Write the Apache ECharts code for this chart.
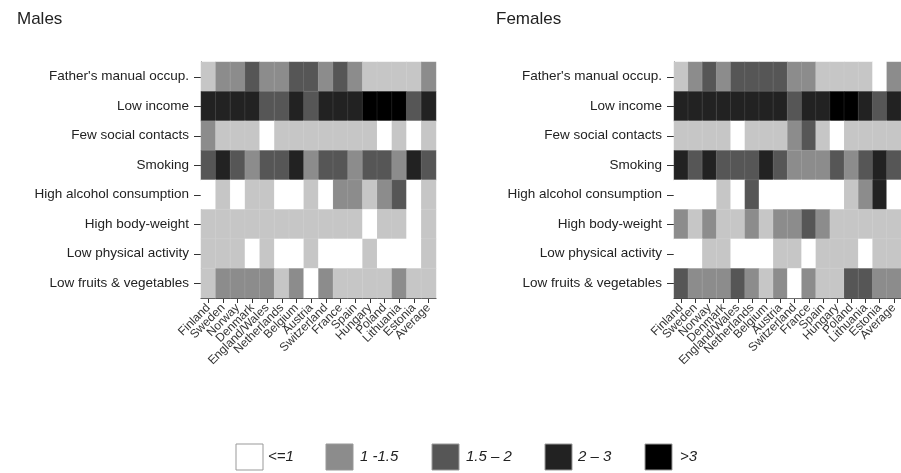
<!DOCTYPE html>
<html><head><meta charset="utf-8">
<script src="https://cdn.jsdelivr.net/npm/echarts/dist/echarts.min.js"></script>
<style>html,body{margin:0;padding:0;background:#fff}#c{width:901px;height:473px}</style>
</head><body><div id="c"></div>
<script>
const countries = ['Finland','Sweden','Norway','Denmark','England/Wales','Netherlands','Belgium','Austria','Switzerland','France','Spain','Hungary','Poland','Lithuania','Estonia','Average'];
const riskFactors = ["Father's manual occup.",'Low income','Few social contacts','Smoking','High alcohol consumption','High body-weight','Low physical activity','Low fruits & vegetables'];
// estimated odds ratios (rows = risk factors, columns = countries)
const malesValues = [
  [1.15,1.4,1.4,1.75,1.4,1.4,1.75,1.75,1.4,1.75,1.4,1.15,1.15,1.15,1.15,1.4],
  [2.5,2.5,2.5,2.5,1.75,1.75,2.5,1.75,2.5,2.5,2.5,3.4,3.4,3.4,1.75,2.5],
  [1.4,1.15,1.15,1.15,0.9,1.15,1.15,1.15,1.15,1.15,1.15,1.15,0.9,1.15,0.9,1.15],
  [1.75,2.5,1.75,1.4,1.75,1.75,2.5,1.4,1.75,1.75,1.4,1.75,1.75,1.4,2.5,1.75],
  [0.9,1.15,0.9,1.15,1.15,0.9,0.9,1.15,0.9,1.4,1.4,1.15,1.4,1.75,0.9,1.15],
  [1.15,1.15,1.15,1.15,1.15,1.15,1.15,1.15,1.15,1.15,1.15,0.9,1.15,1.15,0.9,1.15],
  [1.15,1.15,1.15,0.9,1.15,0.9,0.9,1.15,0.9,0.9,0.9,1.15,0.9,0.9,0.9,1.15],
  [1.15,1.4,1.4,1.4,1.4,1.15,1.4,0.9,1.4,1.15,1.15,1.15,1.15,1.4,1.15,1.15]
];
const femalesValues = [
  [1.15,1.4,1.75,1.4,1.75,1.75,1.75,1.75,1.4,1.4,1.15,1.15,1.15,1.15,0.9,1.4],
  [2.5,2.5,2.5,2.5,2.5,2.5,2.5,2.5,1.75,2.5,2.5,3.4,3.4,2.5,1.75,2.5],
  [1.15,1.15,1.15,1.15,0.9,1.15,1.15,1.15,1.4,1.75,1.15,0.9,1.15,1.15,1.15,1.15],
  [2.5,1.75,2.5,1.75,1.75,1.75,2.5,1.75,1.4,1.4,1.4,1.75,1.4,1.75,2.5,1.75],
  [0.9,0.9,0.9,1.15,0.9,1.75,0.9,0.9,0.9,0.9,0.9,0.9,1.15,1.4,2.5,0.9],
  [1.4,1.15,1.4,1.15,1.15,1.4,1.15,1.4,1.4,1.75,1.4,1.15,1.15,1.15,1.15,1.15],
  [0.9,0.9,1.15,1.15,0.9,0.9,0.9,1.15,1.15,0.9,1.15,1.15,1.15,0.9,1.15,1.15],
  [1.75,1.4,1.4,1.4,1.75,1.4,1.15,1.4,0.9,1.4,1.15,1.15,1.75,1.75,1.4,1.4]
];
const legendLabels = ['<=1','1 -1.5','1.5 \u2013 2','2 \u2013 3','>3'];
const legendColors = ['#ffffff','#8c8c8c','#565656','#222222','#000000'];

function toCells(rows){
  const out = [];
  rows.forEach((r, yi) => r.forEach((v, xi) => out.push([xi, yi, v])));
  return out;
}
const FONT = 'Liberation Sans, Arial, sans-serif';
function xAx(gi){
  return {type:'category', gridIndex:gi, data:countries,
    axisLine:{show:true, lineStyle:{color:'#333', width:1}},
    axisTick:{show:true, alignWithLabel:true, length:5, lineStyle:{color:'#333'}},
    axisLabel:{rotate:45, interval:0, fontSize:12, color:'#333', margin:8, fontFamily:FONT},
    splitLine:{show:false}};
}
function yAx(gi){
  return {type:'category', gridIndex:gi, data:riskFactors, inverse:true,
    axisLine:{show:true, lineStyle:{color:'#333', width:1}},
    axisTick:{show:true, alignWithLabel:true, length:7, lineStyle:{color:'#333'}},
    axisLabel:{interval:0, fontSize:13.5, color:'#222', margin:12, fontFamily:FONT},
    splitLine:{show:false}};
}
const legendGraphics = [];
const boxX = [236, 326, 432, 545, 645];
const textX = [268, 360, 466, 578, 680];
legendLabels.forEach((lab, i) => {
  legendGraphics.push({type:'rect', shape:{x:boxX[i], y:444, width:27, height:26},
    style:{fill:legendColors[i], stroke:'#999', lineWidth:1}});
  legendGraphics.push({type:'text', x:textX[i], y:457,
    style:{text:lab, fill:'#222', font:'italic 15px ' + FONT, textVerticalAlign:'middle'}});
});

const chart = echarts.init(document.getElementById('c'), null, {renderer:'canvas'});
chart.setOption({
  animation:false,
  backgroundColor:'#fff',
  title:[
    {text:'Males', left:12, top:6, textStyle:{fontSize:17, fontWeight:'normal', color:'#222', fontFamily:FONT}},
    {text:'Females', left:491, top:6, textStyle:{fontSize:17, fontWeight:'normal', color:'#222', fontFamily:FONT}}
  ],
  grid:[
    {left:201, top:62, width:235, height:236},
    {left:674, top:62, width:235, height:236}
  ],
  xAxis:[xAx(0), xAx(1)],
  yAxis:[yAx(0), yAx(1)],
  visualMap:{type:'piecewise', show:false, dimension:2, seriesIndex:[0,1],
    pieces:[
      {lte:1, color:'#ffffff'},
      {gt:1, lte:1.25, color:'#c6c6c6'},
      {gt:1.25, lte:1.5, color:'#8c8c8c'},
      {gt:1.5, lte:2, color:'#565656'},
      {gt:2, lte:3, color:'#222222'},
      {gt:3, color:'#000000'}
    ]},
  series:[
    {type:'heatmap', xAxisIndex:0, yAxisIndex:0, data:toCells(malesValues),
      itemStyle:{borderColor:'rgba(255,255,255,0.2)', borderWidth:0.5}},
    {type:'heatmap', xAxisIndex:1, yAxisIndex:1, data:toCells(femalesValues),
      itemStyle:{borderColor:'rgba(255,255,255,0.2)', borderWidth:0.5}}
  ],
  graphic:legendGraphics
});
</script></body></html>
